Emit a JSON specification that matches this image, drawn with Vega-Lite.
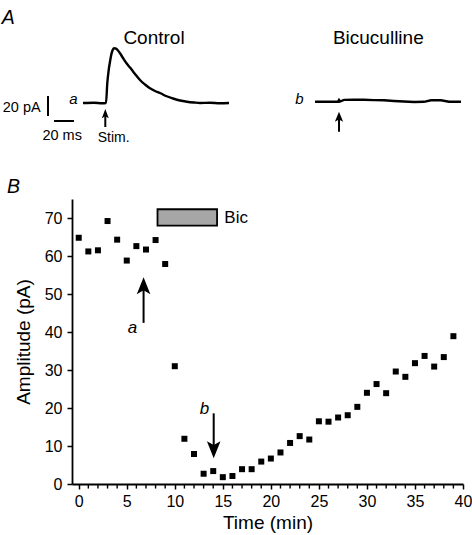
{
  "$schema": "https://vega.github.io/schema/vega-lite/v6.json",
  "width": 391,
  "height": 285,
  "autosize": {"type": "none"},
  "padding": {"left": 72, "top": 199, "right": 9, "bottom": 51},
  "background": "white",
  "config": {"view": {"stroke": null}, "font": "Liberation Sans"},
  "layer": [
    {
      "layer": [
        {
          "data": {"values": [
            {"t": 0, "amp": 64.8}, {"t": 1, "amp": 61.2}, {"t": 2, "amp": 61.5}, {"t": 3, "amp": 69.2},
            {"t": 4, "amp": 64.3}, {"t": 5, "amp": 58.8}, {"t": 6, "amp": 62.6}, {"t": 7, "amp": 61.7},
            {"t": 8, "amp": 64.2}, {"t": 9, "amp": 57.9}, {"t": 10, "amp": 31.0}, {"t": 11, "amp": 11.9},
            {"t": 12, "amp": 7.9}, {"t": 13, "amp": 2.7}, {"t": 14, "amp": 3.4}, {"t": 15, "amp": 1.8},
            {"t": 16, "amp": 2.1}, {"t": 17, "amp": 3.9}, {"t": 18, "amp": 3.9}, {"t": 19, "amp": 5.9},
            {"t": 20, "amp": 6.7}, {"t": 21, "amp": 8.3}, {"t": 22, "amp": 10.8}, {"t": 23, "amp": 12.6},
            {"t": 24, "amp": 11.7}, {"t": 25, "amp": 16.5}, {"t": 26, "amp": 16.4}, {"t": 27, "amp": 17.5},
            {"t": 28, "amp": 18.1}, {"t": 29, "amp": 20.3}, {"t": 30, "amp": 24.0}, {"t": 31, "amp": 26.3},
            {"t": 32, "amp": 23.9}, {"t": 33, "amp": 29.6}, {"t": 34, "amp": 28.2}, {"t": 35, "amp": 31.8},
            {"t": 36, "amp": 33.7}, {"t": 37, "amp": 30.9}, {"t": 38, "amp": 33.4}, {"t": 39, "amp": 38.9}
          ]},
          "mark": {"type": "point", "shape": "square", "filled": true, "size": 36, "color": "black", "opacity": 1},
          "encoding": {
            "x": {
              "field": "t", "type": "quantitative",
              "scale": {"domain": [-0.7, 40], "nice": false, "zero": false},
              "axis": {
                "values": [0, 5, 10, 15, 20, 25, 30, 35, 40],
                "labelOverlap": false, "labelFlush": false,
                "grid": false,
                "tickSize": 5, "tickWidth": 1.5, "tickColor": "black",
                "domainColor": "black", "domainWidth": 1.8,
                "labelFontSize": 16, "labelColor": "black", "labelPadding": 4,
                "title": "Time (min)", "titleFontSize": 19, "titleFontWeight": "normal", "titleColor": "black", "titlePadding": 4
              }
            },
            "y": {
              "field": "amp", "type": "quantitative",
              "scale": {"domain": [0, 75], "nice": false, "zero": false},
              "axis": {
                "values": [0, 10, 20, 30, 40, 50, 60, 70],
                "grid": false,
                "tickSize": 5, "tickWidth": 1.5, "tickColor": "black",
                "domainColor": "black", "domainWidth": 1.8,
                "labelFontSize": 16, "labelColor": "black", "labelPadding": 5,
                "title": "Amplitude (pA)", "titleFontSize": 19, "titleFontWeight": "normal", "titleColor": "black", "titlePadding": 11
              }
            }
          }
        },
        {
          "data": {"values": [
            {"t": 1, "amp": 0}, {"t": 2, "amp": 0}, {"t": 3, "amp": 0}, {"t": 4, "amp": 0},
            {"t": 6, "amp": 0}, {"t": 7, "amp": 0}, {"t": 8, "amp": 0}, {"t": 9, "amp": 0},
            {"t": 11, "amp": 0}, {"t": 12, "amp": 0}, {"t": 13, "amp": 0}, {"t": 14, "amp": 0},
            {"t": 16, "amp": 0}, {"t": 17, "amp": 0}, {"t": 18, "amp": 0}, {"t": 19, "amp": 0},
            {"t": 21, "amp": 0}, {"t": 22, "amp": 0}, {"t": 23, "amp": 0}, {"t": 24, "amp": 0},
            {"t": 26, "amp": 0}, {"t": 27, "amp": 0}, {"t": 28, "amp": 0}, {"t": 29, "amp": 0},
            {"t": 31, "amp": 0}, {"t": 32, "amp": 0}, {"t": 33, "amp": 0}, {"t": 34, "amp": 0},
            {"t": 36, "amp": 0}, {"t": 37, "amp": 0}, {"t": 38, "amp": 0}, {"t": 39, "amp": 0}
          ]},
          "mark": {"type": "tick", "orient": "vertical", "size": 4.5, "thickness": 1.4, "color": "black", "opacity": 1, "yOffset": 2.3},
          "encoding": {
            "x": {"field": "t", "type": "quantitative"},
            "y": {"field": "amp", "type": "quantitative"}
          }
        },
        {
          "data": {"values": [{"t": 8.2, "t2": 14.4, "amp": 68, "amp2": 72.3}]},
          "mark": {"type": "rect", "fill": "#a6a6a6", "stroke": "black", "strokeWidth": 1.8},
          "encoding": {
            "x": {"field": "t", "type": "quantitative"},
            "x2": {"field": "t2"},
            "y": {"field": "amp", "type": "quantitative"},
            "y2": {"field": "amp2"}
          }
        },
        {
          "data": {"values": [{"t": 15.16, "amp": 69.9, "label": "Bic"}]},
          "mark": {"type": "text", "align": "left", "baseline": "middle", "fontSize": 17, "color": "black"},
          "encoding": {
            "x": {"field": "t", "type": "quantitative"},
            "y": {"field": "amp", "type": "quantitative"},
            "text": {"field": "label"}
          }
        },
        {
          "data": {"values": [{"t": 6.75, "amp": 42.4, "amp2": 52.2}, {"t": 14.05, "amp": 18.6, "amp2": 9.0}]},
          "mark": {"type": "rule", "color": "black", "strokeWidth": 2},
          "encoding": {
            "x": {"field": "t", "type": "quantitative"},
            "y": {"field": "amp", "type": "quantitative"},
            "y2": {"field": "amp2"}
          }
        },
        {
          "data": {"values": [{"t": 6.75, "amp": 52.2}]},
          "mark": {"type": "point", "shape": "M0,-1L0.8,1L0,0.55L-0.8,1Z", "size": 289, "filled": true, "color": "black", "opacity": 1},
          "encoding": {
            "x": {"field": "t", "type": "quantitative"},
            "y": {"field": "amp", "type": "quantitative"}
          }
        },
        {
          "data": {"values": [{"t": 14.05, "amp": 9.0}]},
          "mark": {"type": "point", "shape": "M0,1L0.8,-1L0,-0.55L-0.8,-1Z", "size": 289, "filled": true, "color": "black", "opacity": 1},
          "encoding": {
            "x": {"field": "t", "type": "quantitative"},
            "y": {"field": "amp", "type": "quantitative"}
          }
        },
        {
          "data": {"values": [{"t": 5.6, "amp": 41.1, "label": "a"}, {"t": 13.1, "amp": 19.7, "label": "b"}]},
          "mark": {"type": "text", "align": "center", "baseline": "middle", "fontSize": 17, "fontStyle": "italic", "color": "black"},
          "encoding": {
            "x": {"field": "t", "type": "quantitative"},
            "y": {"field": "amp", "type": "quantitative"},
            "text": {"field": "label"}
          }
        },
        {
          "data": {"values": [{"t": -6.8, "amp": 78.2, "label": "B"}]},
          "mark": {"type": "text", "align": "center", "baseline": "middle", "fontSize": 19.5, "fontStyle": "italic", "color": "black"},
          "encoding": {
            "x": {"field": "t", "type": "quantitative"},
            "y": {"field": "amp", "type": "quantitative"},
            "text": {"field": "label"}
          }
        }
      ]
    },
    {
      "layer": [
        {
          "data": {"values": [
            {"t": -23, "pA": 0}, {"t": -12, "pA": 0.3}, {"t": -4, "pA": -0.2}, {"t": 0, "pA": 0},
            {"t": 1.3, "pA": 20}, {"t": 2.7, "pA": 33}, {"t": 4, "pA": 41.3}, {"t": 5, "pA": 47},
            {"t": 6.3, "pA": 52}, {"t": 8.3, "pA": 54.7}, {"t": 10, "pA": 54.3}, {"t": 12, "pA": 52.5},
            {"t": 14, "pA": 49.7}, {"t": 17, "pA": 45}, {"t": 20.7, "pA": 39.5}, {"t": 24, "pA": 35.5},
            {"t": 29, "pA": 29}, {"t": 34, "pA": 23}, {"t": 39, "pA": 18.5}, {"t": 44, "pA": 14.7},
            {"t": 49, "pA": 12}, {"t": 54, "pA": 10}, {"t": 60, "pA": 7}, {"t": 67, "pA": 4.5},
            {"t": 74, "pA": 2.5}, {"t": 81, "pA": 1.3}, {"t": 88, "pA": 0.5}, {"t": 94, "pA": 0},
            {"t": 104, "pA": 0.2}, {"t": 114, "pA": -0.2}, {"t": 123, "pA": 0}
          ]},
          "mark": {"type": "line", "color": "black", "strokeWidth": 2.4, "interpolate": "monotone"},
          "encoding": {
            "x": {"field": "t", "type": "quantitative", "scale": {"domain": [-34, 357], "nice": false, "zero": false}, "axis": null},
            "y": {"field": "pA", "type": "quantitative", "scale": {"domain": [-381, -96], "nice": false, "zero": false}, "axis": null}
          }
        },
        {
          "data": {"values": [{"t": -58, "pA": 7, "pA2": -13}]},
          "mark": {"type": "rule", "color": "black", "strokeWidth": 2},
          "encoding": {
            "x": {"field": "t", "type": "quantitative", "axis": null},
            "y": {"field": "pA", "type": "quantitative", "axis": null},
            "y2": {"field": "pA2"}
          }
        },
        {
          "data": {"values": [{"t": -52, "t2": -32, "pA": -18}]},
          "mark": {"type": "rule", "color": "black", "strokeWidth": 2},
          "encoding": {
            "x": {"field": "t", "type": "quantitative", "axis": null},
            "x2": {"field": "t2"},
            "y": {"field": "pA", "type": "quantitative", "axis": null}
          }
        },
        {
          "data": {"values": [{"t": -0.7, "pA": -10.7, "pA2": -24}]},
          "mark": {"type": "rule", "color": "black", "strokeWidth": 2},
          "encoding": {
            "x": {"field": "t", "type": "quantitative", "axis": null},
            "y": {"field": "pA", "type": "quantitative", "axis": null},
            "y2": {"field": "pA2"}
          }
        },
        {
          "data": {"values": [{"t": -0.7, "pA": -10.7}]},
          "mark": {"type": "point", "shape": "M0,-1L0.75,1L0,0.55L-0.75,1Z", "size": 86, "filled": true, "color": "black", "opacity": 1},
          "encoding": {
            "x": {"field": "t", "type": "quantitative", "axis": null},
            "y": {"field": "pA", "type": "quantitative", "axis": null}
          }
        },
        {
          "data": {"values": [{"t": 48, "pA": 65.3, "label": "Control"}]},
          "mark": {"type": "text", "align": "center", "baseline": "middle", "fontSize": 19, "color": "black"},
          "encoding": {
            "x": {"field": "t", "type": "quantitative", "axis": null},
            "y": {"field": "pA", "type": "quantitative", "axis": null},
            "text": {"field": "label"}
          }
        },
        {
          "data": {"values": [{"t": -97.7, "pA": 84.7, "label": "A"}]},
          "mark": {"type": "text", "align": "center", "baseline": "middle", "fontSize": 19.5, "fontStyle": "italic", "color": "black"},
          "encoding": {
            "x": {"field": "t", "type": "quantitative", "axis": null},
            "y": {"field": "pA", "type": "quantitative", "axis": null},
            "text": {"field": "label"}
          }
        },
        {
          "data": {"values": [{"t": -32.7, "pA": 4, "label": "a"}]},
          "mark": {"type": "text", "align": "center", "baseline": "middle", "fontSize": 15, "fontStyle": "italic", "color": "black"},
          "encoding": {
            "x": {"field": "t", "type": "quantitative", "axis": null},
            "y": {"field": "pA", "type": "quantitative", "axis": null},
            "text": {"field": "label"}
          }
        },
        {
          "data": {"values": [{"t": -65.3, "pA": -4.5, "label": "20 pA"}]},
          "mark": {"type": "text", "align": "right", "baseline": "middle", "fontSize": 14.5, "color": "black"},
          "encoding": {
            "x": {"field": "t", "type": "quantitative", "axis": null},
            "y": {"field": "pA", "type": "quantitative", "axis": null},
            "text": {"field": "label"}
          }
        },
        {
          "data": {"values": [{"t": -43.8, "pA": -32.5, "label": "20 ms"}]},
          "mark": {"type": "text", "align": "center", "baseline": "middle", "fontSize": 14.5, "color": "black"},
          "encoding": {
            "x": {"field": "t", "type": "quantitative", "axis": null},
            "y": {"field": "pA", "type": "quantitative", "axis": null},
            "text": {"field": "label"}
          }
        },
        {
          "data": {"values": [{"t": 7.7, "pA": -34.5, "label": "Stim."}]},
          "mark": {"type": "text", "align": "center", "baseline": "middle", "fontSize": 14, "color": "black"},
          "encoding": {
            "x": {"field": "t", "type": "quantitative", "axis": null},
            "y": {"field": "pA", "type": "quantitative", "axis": null},
            "text": {"field": "label"}
          }
        }
      ]
    },
    {
      "layer": [
        {
          "data": {"values": [
            {"t": -24, "pA": -0.2}, {"t": -15, "pA": -0.3}, {"t": -6, "pA": -0.2}, {"t": -1, "pA": -0.2},
            {"t": 0, "pA": 1.5}, {"t": 1, "pA": 0}, {"t": 5, "pA": 1.6}, {"t": 15, "pA": 1.8},
            {"t": 25, "pA": 1.7}, {"t": 35, "pA": 1.4}, {"t": 45, "pA": 1.2}, {"t": 55, "pA": 0.5},
            {"t": 65, "pA": 0}, {"t": 75, "pA": -0.5}, {"t": 85, "pA": -0.3}, {"t": 92, "pA": 1.2},
            {"t": 102, "pA": 1.3}, {"t": 110, "pA": -0.2}, {"t": 122, "pA": -0.3}
          ]},
          "mark": {"type": "line", "color": "black", "strokeWidth": 2.4},
          "encoding": {
            "x": {"field": "t", "type": "quantitative", "scale": {"domain": [-267, 124], "nice": false, "zero": false}, "axis": null},
            "y": {"field": "pA", "type": "quantitative", "scale": {"domain": [-382.5, -97.5], "nice": false, "zero": false}, "axis": null}
          }
        },
        {
          "data": {"values": [{"t": 0, "pA": -15.2, "pA2": -30.2}]},
          "mark": {"type": "rule", "color": "black", "strokeWidth": 2},
          "encoding": {
            "x": {"field": "t", "type": "quantitative", "axis": null},
            "y": {"field": "pA", "type": "quantitative", "axis": null},
            "y2": {"field": "pA2"}
          }
        },
        {
          "data": {"values": [{"t": 0, "pA": -15.2}]},
          "mark": {"type": "point", "shape": "M0,-1L0.83,1L0,0.55L-0.83,1Z", "size": 100, "filled": true, "color": "black", "opacity": 1},
          "encoding": {
            "x": {"field": "t", "type": "quantitative", "axis": null},
            "y": {"field": "pA", "type": "quantitative", "axis": null}
          }
        },
        {
          "data": {"values": [{"t": 39.3, "pA": 63.8, "label": "Bicuculline"}]},
          "mark": {"type": "text", "align": "center", "baseline": "middle", "fontSize": 19, "color": "black"},
          "encoding": {
            "x": {"field": "t", "type": "quantitative", "axis": null},
            "y": {"field": "pA", "type": "quantitative", "axis": null},
            "text": {"field": "label"}
          }
        },
        {
          "data": {"values": [{"t": -39.7, "pA": 2.5, "label": "b"}]},
          "mark": {"type": "text", "align": "center", "baseline": "middle", "fontSize": 15, "fontStyle": "italic", "color": "black"},
          "encoding": {
            "x": {"field": "t", "type": "quantitative", "axis": null},
            "y": {"field": "pA", "type": "quantitative", "axis": null},
            "text": {"field": "label"}
          }
        }
      ]
    }
  ],
  "resolve": {"scale": {"x": "independent", "y": "independent"}}
}
